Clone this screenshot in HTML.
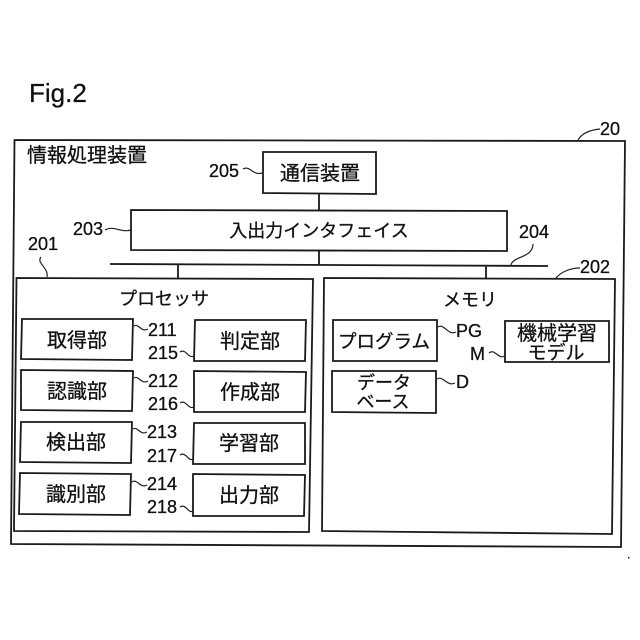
<!DOCTYPE html>
<html lang="ja">
<head>
<meta charset="utf-8">
<style>
html,body{margin:0;padding:0;background:#fff;width:640px;height:640px;overflow:hidden}
svg{display:block}
text{font-family:"Liberation Sans","Noto Sans CJK JP",sans-serif;fill:#111;stroke:#111;stroke-width:.3}
.b polygon{fill:#fff;stroke:#1a1a1a;stroke-width:1.8}
.l{fill:none;stroke:#1a1a1a;stroke-width:1.8}
.s{fill:none;stroke:#222;stroke-width:1.2}
.j{font-size:20px;text-anchor:middle}
.n{font-size:18px}
</style>
</head>
<body>
<svg width="640" height="640" viewBox="0 0 640 640" xmlns="http://www.w3.org/2000/svg">
<text x="29" y="102" style="font-size:26px">Fig.2</text>

<g class="b">
<polygon points="14.5,140 625,141 621,547 11,544"/>
</g>

<path class="l" d="M319,194V210M319,251V265M110,264L548,266M178,264V278M486,265V279"/>

<g class="b">
<polygon points="263,152 376,152 376,194 263,193"/>
<polygon points="131,210 507,211 507,251 131,250"/>
<polygon points="16.5,278 313,279 309,532 14,531"/>
<polygon points="324,278 615,279 612,534 322,531"/>
<polygon points="22,319 133,319 132,360 21,359"/>
<polygon points="21,370 133,371 132,411 21,410"/>
<polygon points="21,422 132,422 131,463 20,462"/>
<polygon points="20,473 131,474 130,515 19,514"/>
<polygon points="195,320 306,320 305,361 194,361"/>
<polygon points="194,371 306,372 305,412 194,412"/>
<polygon points="194,423 305,423 305,464 193,464"/>
<polygon points="193,474 305,475 304,516 193,516"/>
<polygon points="333,320 437,320 437,361 333,361"/>
<polygon points="332,371 436,371 436,413 332,412"/>
<polygon points="505,321 609,321 609,362 505,362"/>
</g>

<g class="s">
<path d="M578,140C582,133 590,130 600,129"/>
<path d="M243,169C250,165 253,176 262,173"/>
<path d="M105,230C114,225 120,233 131,230"/>
<path d="M41,257C36,263 49,268 47,277"/>
<path d="M511,265C513,256 533,258 533,244"/>
<path d="M556,278C561,272 570,268 580,268"/>
<path d="M134,326C139,323 141,333 148,329"/>
<path d="M134,378C139,375 141,385 148,381"/>
<path d="M133,429C138,426 140,436 147,432"/>
<path d="M132,482C137,478 140,489 147,485"/>
<path d="M180,352C186,348 188,359 194,356"/>
<path d="M180,403C186,399 188,410 194,407"/>
<path d="M180,455C186,451 188,462 193,459"/>
<path d="M180,507C186,503 188,514 193,511"/>
<path d="M438,327C444,323 448,336 456,332"/>
<path d="M489,353C495,348 498,360 505,356"/>
<path d="M437,379C443,375 447,387 455,383"/>
</g>

<text class="j" x="87" y="162">情報処理装置</text>
<text class="j" x="320" y="180">通信装置</text>
<text class="j" x="319" y="237" style="font-size:18px">入出力インタフェイス</text>
<text class="j" x="164" y="305" style="font-size:18px">プロセッサ</text>
<text class="j" x="470" y="306" style="font-size:18px">メモリ</text>

<text class="j" x="77" y="347">取得部</text>
<text class="j" x="77" y="398">認識部</text>
<text class="j" x="76" y="449">検出部</text>
<text class="j" x="76" y="501">識別部</text>
<text class="j" x="250" y="348">判定部</text>
<text class="j" x="250" y="399">作成部</text>
<text class="j" x="249" y="450">学習部</text>
<text class="j" x="249" y="502">出力部</text>

<text class="j" x="384" y="348" style="font-size:18.5px">プログラム</text>
<text class="j" x="384" y="389" style="font-size:18px">データ</text>
<text class="j" x="383" y="408" style="font-size:18px">ベース</text>
<text class="j" x="557" y="340">機械学習</text>
<text class="j" x="556" y="359" style="font-size:19px">モデル</text>

<text class="n" x="600" y="135">20</text>
<text class="n" x="209" y="177">205</text>
<text class="n" x="73" y="235">203</text>
<text class="n" x="28" y="250">201</text>
<text class="n" x="519" y="238">204</text>
<text class="n" x="580" y="273">202</text>
<text class="n" x="148" y="336">211</text>
<text class="n" x="148" y="359">215</text>
<text class="n" x="148" y="387">212</text>
<text class="n" x="148" y="410">216</text>
<text class="n" x="147" y="438">213</text>
<text class="n" x="147" y="462">217</text>
<text class="n" x="147" y="490">214</text>
<text class="n" x="147" y="513">218</text>
<text class="n" x="456" y="337">PG</text>
<text class="n" x="470" y="360">M</text>
<text class="n" x="456" y="388">D</text>
<rect x="628" y="557" width="1.5" height="1.5" fill="#222"/>
</svg>
</body>
</html>
